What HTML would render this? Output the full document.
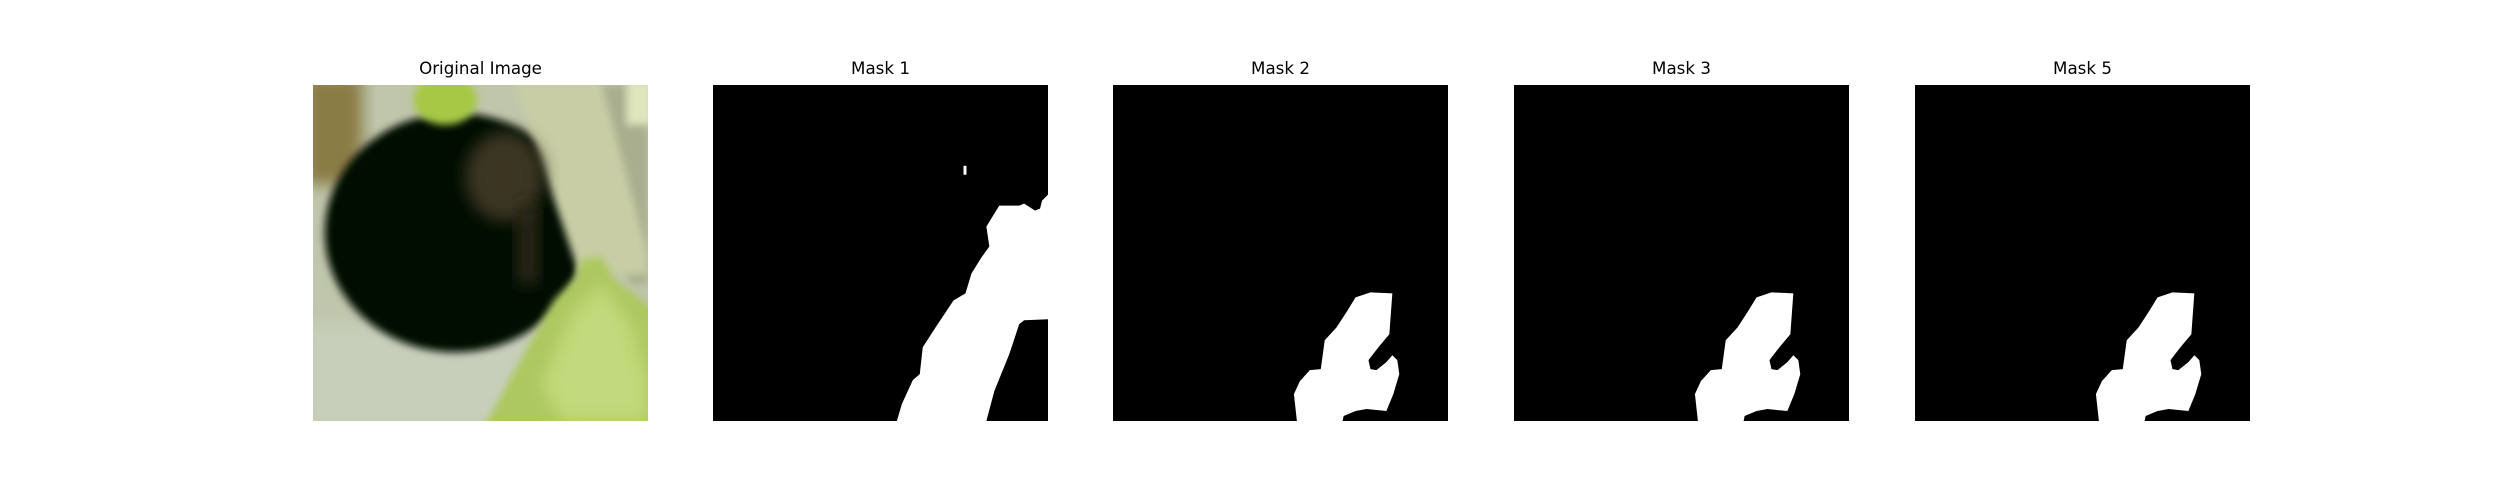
<!DOCTYPE html>
<html><head><meta charset="utf-8"><style>
html,body{margin:0;padding:0;background:#fff;}
#fig{position:relative;width:2500px;height:500px;overflow:hidden;font-family:"DejaVu Sans","Liberation Sans",sans-serif;}
.title{position:absolute;top:58px;width:335px;text-align:center;font-size:16.7px;color:#000;white-space:nowrap;}
.panel{position:absolute;top:85px;width:335px;height:336px;}
</style></head><body>
<div id="fig">
  <div class="title" style="left:313px">Original Image</div>
  <div class="title" style="left:713px">Mask 1</div>
  <div class="title" style="left:1113px">Mask 2</div>
  <div class="title" style="left:1514px">Mask 3</div>
  <div class="title" style="left:1915px">Mask 5</div>

  <svg class="panel" style="left:313px" viewBox="0 0 337 337" preserveAspectRatio="none">
    <defs>
      <filter id="b1" x="-20%" y="-20%" width="140%" height="140%"><feGaussianBlur stdDeviation="8"/></filter>
      <filter id="b2" x="-20%" y="-20%" width="140%" height="140%"><feGaussianBlur stdDeviation="4"/></filter>
      <clipPath id="cp"><rect width="337" height="337"/></clipPath>
    </defs>
    <g clip-path="url(#cp)">
      <rect width="337" height="337" fill="#bfc6ab"/>
      <rect x="-10" y="-10" width="60" height="110" fill="#8a7c45" filter="url(#b1)"/>
      <rect x="-10" y="240" width="357" height="107" fill="#c6cfba" filter="url(#b1)"/>
      <ellipse cx="143" cy="148" rx="131" ry="120" fill="#050704" filter="url(#b2)"/>
      <polygon points="250,0 337,0 337,200 320,200" fill="#a9ae8e" filter="url(#b2)"/>
      <polygon points="200,-10 288,-10 337,170 337,190 268,190" fill="#c8cda6" filter="url(#b2)"/>
      <ellipse cx="193" cy="92" rx="40" ry="45" fill="#3a3420" filter="url(#b1)"/>
      <rect x="205" y="120" width="22" height="80" fill="#2a2816" filter="url(#b1)"/>
      <ellipse cx="133" cy="15" rx="32" ry="25" fill="#a6c844" filter="url(#b2)"/>
      <polygon points="170,347 213,268 243,215 263,195 270,175 290,172 303,195 347,228 347,347" fill="#adc85e" filter="url(#b2)"/>
      <polygon points="230,300 260,230 290,200 320,240 337,300 337,337 250,337" fill="#c2d97c" filter="url(#b1)"/>
      <rect x="315" y="-5" width="27" height="45" fill="#dfe5bd" filter="url(#b2)"/>
    </g>
  </svg>

  <svg class="panel" style="left:713px" viewBox="0 0 337 337" preserveAspectRatio="none">
    <rect width="337" height="337" fill="#000"/>
    <polygon fill="#fff" points="185,337 190,320 201,296 208,290 211,263 224,243 242,216 254,209 260,189 270,173 278,162 275,142 283,129 288,121 308,121 313,119 324,126 329,124 331,116 337,110 337,235 313,236 308,240 298,270 283,307 275,337"/>
    <rect x="252" y="81" width="3" height="9" fill="#fff"/>
  </svg>

  <svg class="panel" style="left:1113px" viewBox="0 0 337 337" preserveAspectRatio="none">
    <rect width="337" height="337" fill="#000"/>
    <polygon fill="#fff" points="185,337 182,310 188,297 198,286 209,285 213,256 225,243 236,226 244,213 259,208 281,209 278,250 267,263 257,276 259,285 265,286 275,278 281,271 286,276 288,290 282,310 275,327 255,325 244,327 232,332 231,337"/>
  </svg>

  <svg class="panel" style="left:1514px" viewBox="0 0 337 337" preserveAspectRatio="none">
    <rect width="337" height="337" fill="#000"/>
    <polygon fill="#fff" points="185,337 182,310 188,297 198,286 209,285 213,256 225,243 236,226 244,213 259,208 281,209 278,250 267,263 257,276 259,285 265,286 275,278 281,271 286,276 288,290 282,310 275,327 255,325 244,327 232,332 231,337"/>
  </svg>

  <svg class="panel" style="left:1915px" viewBox="0 0 337 337" preserveAspectRatio="none">
    <rect width="337" height="337" fill="#000"/>
    <polygon fill="#fff" points="185,337 182,310 188,297 198,286 209,285 213,256 225,243 236,226 244,213 259,208 281,209 278,250 267,263 257,276 259,285 265,286 275,278 281,271 286,276 288,290 282,310 275,327 255,325 244,327 232,332 231,337"/>
  </svg>
</div>
</body></html>
